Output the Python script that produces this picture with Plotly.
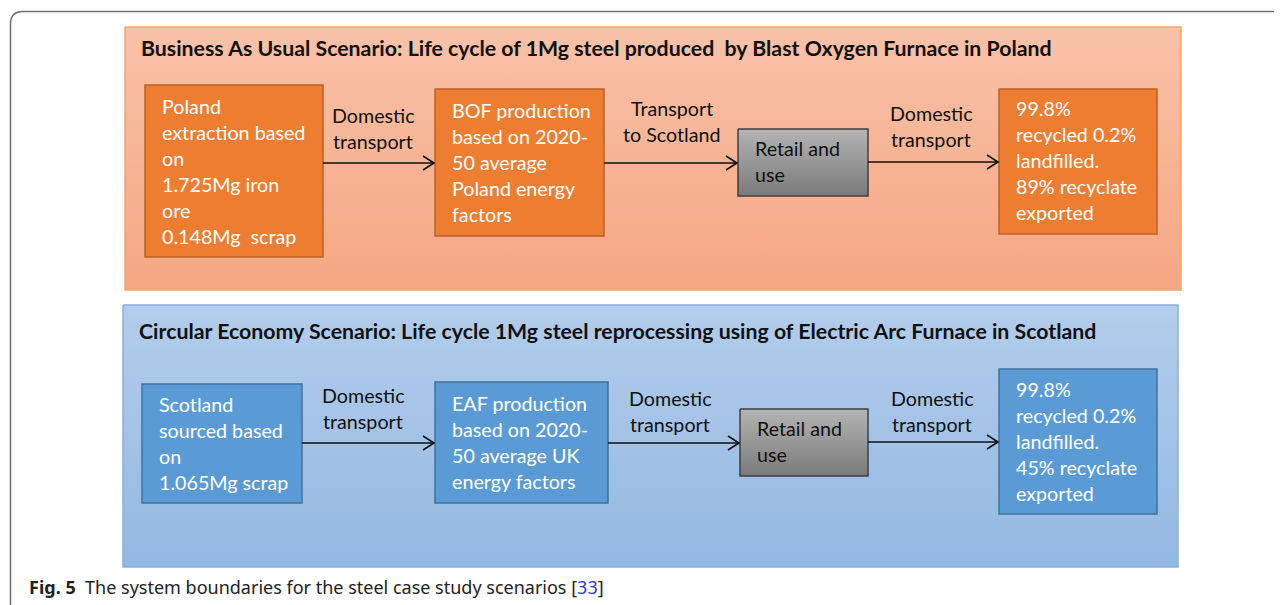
import plotly.graph_objects as go

# ---------------- content (text) ----------------
top_title = "Business As Usual Scenario: Life cycle of 1Mg steel produced  by Blast Oxygen Furnace in Poland"
bottom_title = "Circular Economy Scenario: Life cycle 1Mg steel reprocessing using of Electric Arc Furnace in Scotland"

bau_boxes = [
    ["Poland", "extraction based", "on", "1.725Mg iron", "ore", "0.148Mg  scrap"],
    ["BOF production", "based on 2020-", "50 average", "Poland energy", "factors"],
    ["Retail and", "use"],
    ["99.8%", "recycled 0.2%", "landfilled.", "89% recyclate", "exported"],
]
bau_arrow_labels = [["Domestic", "transport"], ["Transport", "to Scotland"], ["Domestic", "transport"]]

ce_boxes = [
    ["Scotland", "sourced based", "on", "1.065Mg scrap"],
    ["EAF production", "based on 2020-", "50 average UK", "energy factors"],
    ["Retail and", "use"],
    ["99.8%", "recycled 0.2%", "landfilled.", "45% recyclate", "exported"],
]
ce_arrow_labels = [["Domestic", "transport"], ["Domestic", "transport"], ["Domestic", "transport"]]

caption_bold = "Fig. 5"
caption_text = "The system boundaries for the steel case study scenarios"
caption_ref = "33"

# ---------------- layout geometry (pixels, window coordinates) ----------------
W, H = 1282, 605
OFF = 8  # default page body margin
FONT = "Lato"
LINE = 26
BODY = 19.7
TITLE = 21.3

panels = [
    dict(x=(125, 1181), y=(27, 290), c=("#f8c2a8", "#f5a683"), border="#f4a46e",
         title=top_title, tx=139, ty=48),
    dict(x=(123, 1178), y=(305, 567), c=("#b3cdeb", "#93b8e2"), border="#88b0df",
         title=bottom_title, tx=137, ty=331),
]

rows = [
    dict(boxes=bau_boxes, labels=bau_arrow_labels,
         bx=[(145, 323), (435, 604), (738, 868), (999, 1157)],
         by=[(85, 257), (89, 236), (129, 196), (89, 234)],
         txt_x=[160, 450, 753, 1014], txt_y=[106, 110, 148, 108],
         arrow_y=[163, 163, 162], label_x=[373, 672, 931], label_y=[115, 108, 113],
         fill="#ed7d31", edge="#b9612a"),
    dict(boxes=ce_boxes, labels=ce_arrow_labels,
         bx=[(142, 302), (435, 608), (740, 868), (999, 1157)],
         by=[(384, 503), (382, 503), (409, 476), (369, 514)],
         txt_x=[157, 450, 755, 1014], txt_y=[404, 403, 428, 389],
         arrow_y=[443, 443, 442], label_x=[363, 670, 932], label_y=[395, 398, 398],
         fill="#5b9bd5", edge="#41719c"),
]

fig = go.Figure()
shapes = []
annotations = []


def grad_rect(x0, x1, y0, y1, c0, c1, line_color, lw):
    fig.add_trace(go.Scatter(
        x=[x0, x1, x1, x0, x0], y=[y0, y0, y1, y1, y0],
        mode="lines", fill="toself",
        fillgradient=dict(type="vertical", colorscale=[[0, c0], [1, c1]], start=y0, stop=y1),
        line=dict(color=line_color, width=lw),
        hoverinfo="skip", showlegend=False))


# outer frame (top-left rounded corner)
shapes.append(dict(type="path", path="M 10.5,610 L 10.5,24 Q 10.5,11.5 23,11.5 L 1290,11.5",
                   line=dict(color="#6e6e6e", width=1.5), layer="below"))

for p in panels:
    grad_rect(p["x"][0], p["x"][1], p["y"][0], p["y"][1], p["c"][0], p["c"][1], p["border"], 1.5)
    annotations.append(dict(x=p["tx"], y=p["ty"], text="<b>" + p["title"] + "</b>",
                            xanchor="left", yanchor="middle", showarrow=False,
                            font=dict(family=FONT, size=TITLE, color="#111111")))

for r in rows:
    for i, lines in enumerate(r["boxes"]):
        (x0, x1), (y0, y1) = r["bx"][i], r["by"][i]
        if i == 2:
            grad_rect(x0, x1, y0, y1, "#b4b4b4", "#7a7a7a", "#3f3f3f", 1.5)
            tcol = "#111111"
        else:
            shapes.append(dict(type="rect", x0=x0, x1=x1, y0=y0, y1=y1,
                               fillcolor=r["fill"], line=dict(color=r["edge"], width=1.5)))
            tcol = "#ffffff"
        for k, t in enumerate(lines):
            annotations.append(dict(x=r["txt_x"][i], y=r["txt_y"][i] + k * LINE, text=t,
                                    xanchor="left", yanchor="middle", showarrow=False,
                                    font=dict(family=FONT, size=BODY, color=tcol)))
    # arrows between boxes
    for j in range(3):
        xs = r["bx"][j][1]
        xe = r["bx"][j + 1][0]
        ya = r["arrow_y"][j]
        shapes.append(dict(type="line", x0=xs, x1=xe - 1, y0=ya, y1=ya,
                           line=dict(color="#111111", width=1.6)))
        shapes.append(dict(type="path",
                           path=f"M {xe-12},{ya-7} L {xe-1},{ya} L {xe-12},{ya+7}",
                           line=dict(color="#111111", width=1.6)))
        for k, t in enumerate(r["labels"][j]):
            annotations.append(dict(x=r["label_x"][j], y=r["label_y"][j] + k * LINE, text=t,
                                    xanchor="center", yanchor="middle", showarrow=False,
                                    font=dict(family=FONT, size=BODY, color="#111111")))

# caption
annotations.append(dict(
    x=27, y=587, xanchor="left", yanchor="middle", showarrow=False,
    text=f"<b>{caption_bold}</b>  {caption_text} [<span style='color:#3333cc'>{caption_ref}</span>]",
    font=dict(family="Noto Sans", size=18, color="#222222")))

fig.update_layout(
    width=W - OFF, height=H - OFF, margin=dict(l=0, r=0, t=0, b=0),
    paper_bgcolor="white", plot_bgcolor="white",
    xaxis=dict(range=[OFF, W], visible=False, fixedrange=True),
    yaxis=dict(range=[H, OFF], visible=False, fixedrange=True),
    shapes=shapes, annotations=annotations, showlegend=False,
)

fig.write_html("out.html")
